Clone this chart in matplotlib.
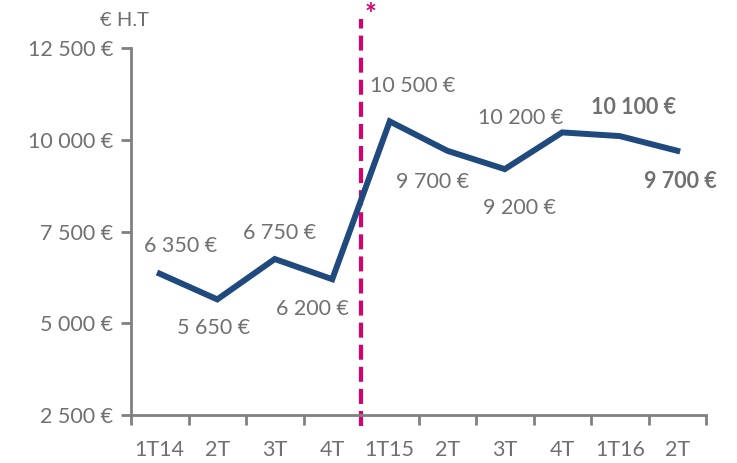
import matplotlib.pyplot as plt
import numpy as np

quarters = ["1T14", "2T", "3T", "4T", "1T15", "2T", "3T", "4T", "1T16", "2T"]
prices = [6350, 5650, 6750, 6200, 10500, 9700, 9200, 10200, 10100, 9700]
labels = ["6 350 €", "5 650 €", "6 750 €", "6 200 €", "10 500 €",
          "9 700 €", "9 200 €", "10 200 €", "10 100 €", "9 700 €"]
bold_labels = [8, 9]
yticks = [2500, 5000, 7500, 10000, 12500]
ytick_labels = ["2 500 €", "5 000 €", "7 500 €", "10 000 €", "12 500 €"]

# label offsets in pixels (dx, dy)
offsets = [(21, 28), (-4, -29), (5, 26), (-20, -30), (23, 35),
           (-15, -31), (15, -39), (-42, 14), (14, 29), (3, -31)]

gray = "#707070"
plt.rcParams['font.family'] = ['Lato', 'DejaVu Sans']

fig = plt.figure(figsize=(7.37, 4.63), dpi=100)
ax = fig.add_axes([131 / 737, 48 / 463, 575 / 737, 367 / 463])

x = np.arange(len(prices))
ax.plot(x, prices, color="#204a7e", lw=4.3, solid_joinstyle="miter", zorder=3)

for i, (v, lab) in enumerate(zip(prices, labels)):
    ax.annotate(lab, (i, v), xytext=offsets[i], textcoords="offset pixels",
                ha="center", va="center", fontsize=15.5, color=gray,
                fontweight="bold" if i in bold_labels else "normal")

# break between 2014 and 2015
ax.axvline(3.5, ymin=-0.03, ymax=1.08, color="#d6006e", lw=3,
           dashes=(3.6, 1.7), clip_on=False, zorder=2)
ax.text(3.57, 1.09, "*", transform=ax.get_xaxis_transform(), color="#d6006e",
        fontsize=20, fontweight="bold", ha="left", va="center")
ax.text(-0.62, 1.075, "€ H.T", transform=ax.get_xaxis_transform(), color=gray,
        fontsize=14.5, ha="center", va="center")

ax.set_xlim(-0.5, len(prices) - 0.5)
ax.set_ylim(2500, 12500)
ax.set_yticks(yticks)
ax.set_yticklabels(ytick_labels)
ax.set_xticks(x)
ax.set_xticklabels(quarters)
ax.set_xticks(np.arange(-0.5, len(prices)), minor=True)
ax.tick_params(axis="x", which="major", length=0, pad=18, labelsize=15.5, labelcolor=gray)
ax.tick_params(axis="x", which="minor", length=7, width=2, color="#808080")
ax.tick_params(axis="y", length=7, width=2, color="#808080", labelsize=15.5,
               labelcolor=gray, pad=6)

for s in ["top", "right"]:
    ax.spines[s].set_visible(False)
for s in ["left", "bottom"]:
    ax.spines[s].set_color("#808080")
    ax.spines[s].set_linewidth(2)

fig.savefig("out.png", dpi=100)
